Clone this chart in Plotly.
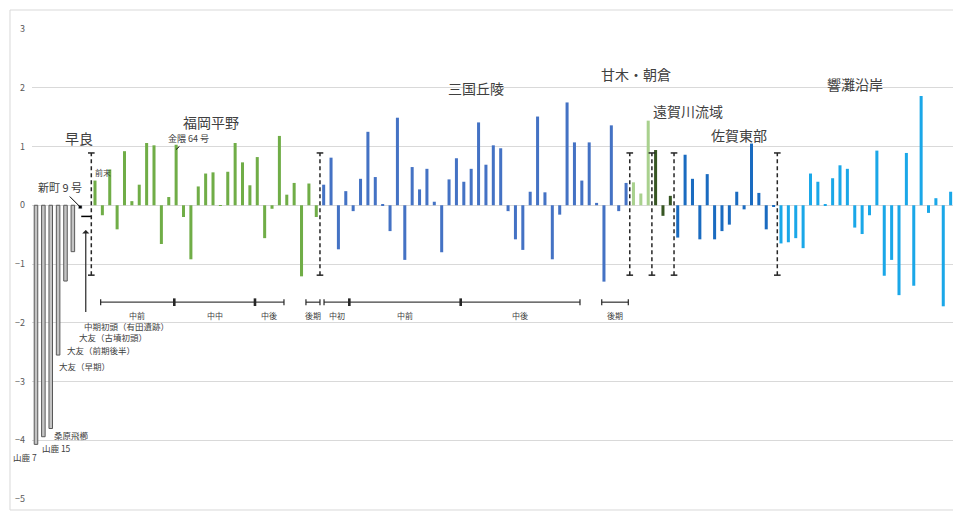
import plotly.graph_objects as go

# ---- values per region (standardised scores, one bar per site) ----
reference_sites = ["山鹿 7", "山鹿 15", "桑原飛櫛", "大友（早期）", "大友（前期後半）", "大友（古墳初頭）"]
reference_vals = [-4.07, -3.94, -3.80, -2.55, -1.29, -0.79]
shinmachi_val = [-0.06]
arita_val = [-0.19]

sawara_fukuoka_vals = [0.42, -0.17, 0.61, -0.41, 0.92, 0.07, 0.35, 1.06, 1.02, -0.66,
                       0.14, 1.03, -0.20, -0.92, 0.32, 0.54, 0.56, -0.01, 0.57, 1.06,
                       0.73, 0.34, 0.82, -0.56, -0.06, 1.18, 0.18, 0.38, -1.21, 0.37,
                       -0.20]
mikuni_vals = [0.35, 0.81, -0.75, 0.24, -0.10, 0.45, 1.25, 0.48, 0.02, -0.44,
               1.49, -0.93, 0.65, 0.27, 0.62, 0.06, -0.80, 0.44, 0.80, 0.40,
               0.62, 1.41, 0.69, 1.02, 0.97, -0.10, -0.58, -0.76, 0.23, 1.51,
               0.22, -0.92, -0.16, 1.75, 1.07, 0.42, 1.07, 0.04, -1.30, 1.36,
               -0.10, 0.38]
amagi_vals = [0.39, 0.20, 1.44]
onga_vals = [0.94, -0.18, 0.16]
saga_vals = [-0.55, 0.86, 0.45, -0.58, 0.53, -0.58, -0.44, -0.33, 0.23, -0.07,
             1.05, 0.21, -0.41, -0.02]
hibiki_vals = [-0.65, -0.63, -0.56, -0.73, 0.54, 0.40, 0.01, 0.46, 0.68, 0.62,
               -0.38, -0.49, -0.17, 0.93, -1.20, -0.93, -1.53, 0.89, -1.37, 1.86,
               -0.13, 0.12, -1.72, 0.23]

region_names = ["早良", "福岡平野", "三国丘陵", "甘木・朝倉", "遠賀川流域", "佐賀東部", "響灘沿岸"]
period_names = ["中前", "中中", "中後", "後期", "中初", "中前", "中後", "後期"]
y_ticks = [3, 2, 1, 0, -1, -2, -3, -4, -5]

# ---- category positions (consecutive slots) ----
pos = 0
def slots(vals):
    global pos
    xs = list(range(pos, pos + len(vals)))
    pos += len(vals)
    return xs

x_ref = slots(reference_vals)
x_shin = slots(shinmachi_val)
x_arita = slots(arita_val)
x_fuk = slots(sawara_fukuoka_vals)
x_mik = slots(mikuni_vals)
x_ama = slots(amagi_vals)
x_onga = slots(onga_vals)
x_saga = slots(saga_vals)
x_hib = slots(hibiki_vals)

FONT = "Noto Sans CJK JP, Noto Sans, sans-serif"
TXT = "#404040"
BW = 0.41

fig = go.Figure()
fig.add_trace(go.Bar(x=x_ref, y=reference_vals, width=0.48,
                     marker=dict(color="#c4c4c4", line=dict(color="#595959", width=1))))
fig.add_trace(go.Bar(x=x_shin, y=shinmachi_val, width=0.5, marker=dict(color="#000000")))
fig.add_trace(go.Scatter(x=[v - 0.2 for v in x_arita], y=arita_val, mode="markers",
                         marker=dict(symbol="line-ew", size=7, line=dict(color="#000000", width=1.5))))
for xs, vals, col in [(x_fuk, sawara_fukuoka_vals, "#70ad47"),
                      (x_mik, mikuni_vals, "#4472c4"),
                      (x_ama, amagi_vals, "#a9d18e"),
                      (x_onga, onga_vals, "#375623"),
                      (x_saga, saga_vals, "#1a6bc0"),
                      (x_hib, hibiki_vals, "#1aa7e8")]:
    fig.add_trace(go.Bar(x=xs, y=vals, width=BW, marker=dict(color=col, line=dict(width=0))))

# ---- dashed region separators with end caps ----
separators = [x_fuk[0] - 0.5, x_mik[0] - 0.5, x_ama[0] - 0.5,
              x_onga[0] - 0.5, x_saga[0] - 0.5, x_hib[0] - 0.5]
sep_lo, sep_hi = -1.19, 0.89
shapes = []
for s in separators:
    shapes.append(dict(type="line", xref="x", yref="y", x0=s, x1=s, y0=sep_lo, y1=sep_hi,
                       line=dict(color="#262626", width=1.5, dash="4px,3px")))
    for yy in (sep_lo, sep_hi):
        shapes.append(dict(type="line", xref="x", yref="y", x0=s - 0.45, x1=s + 0.45,
                           y0=yy, y1=yy, line=dict(color="#262626", width=1.5)))

# ---- period brackets ----
bracket_groups = [
    [8.77, 18.75, 29.69, 33.62],
    [36.6, 38.5],
    [39.05, 42.48, 57.58, 73.75],
    [76.7, 80.3],
]
by = -1.65
label_y = -1.87
annotations = []
pi = 0
for g in bracket_groups:
    shapes.append(dict(type="line", xref="x", yref="y", x0=g[0], x1=g[-1], y0=by, y1=by,
                       line=dict(color="#404040", width=1.3)))
    for j, b in enumerate(g):
        inner = 0 < j < len(g) - 1
        shapes.append(dict(type="line", xref="x", yref="y", x0=b, x1=b,
                           y0=by - (0.065 if inner else 0.05), y1=by + (0.065 if inner else 0.05),
                           line=dict(color="#262626", width=2.6 if inner else 1.2)))
    for a, b in zip(g[:-1], g[1:]):
        annotations.append(dict(x=(a + b) / 2, y=label_y, xref="x", yref="y", text=period_names[pi],
                                showarrow=False, font=dict(family=FONT, size=8, color=TXT)))
        pi += 1

# ---- outer chart frame ----
shapes.append(dict(type="rect", xref="paper", yref="paper", x0=-0.0239, x1=1.05, y0=-0.0234, y1=1.0404,
                   line=dict(color="#d9d9d9", width=1), fillcolor="rgba(0,0,0,0)", layer="below"))

# ---- region titles ----
region_pos = [(5.84, 1.14), (23.7, 1.42), (59.6, 2.0), (81.35, 2.23), (88.4, 1.6), (95.3, 1.2), (111.0, 2.06)]
for name, (xx, yy) in zip(region_names, region_pos):
    annotations.append(dict(x=xx, y=yy, xref="x", yref="y", text=name, showarrow=False,
                            font=dict(family=FONT, size=14, color=TXT)))

# ---- site labels ----
site_label_pos = [(0.4, -4.29, "right"), (0.54, -4.13, "left"), (2.17, -3.91, "left"),
                  (2.85, -2.73, "left"), (3.93, -2.46, "left"), (5.56, -2.24, "left")]
for name, (xx, yy, anc) in zip(reference_sites, site_label_pos):
    annotations.append(dict(x=xx, y=yy, xref="x", yref="y", text=name, showarrow=False,
                            xanchor=anc, font=dict(family=FONT, size=8.5, color=TXT)))
annotations.append(dict(x=6.24, y=-2.06, xref="x", yref="y", text="中期初頭（有田遺跡）", showarrow=False,
                        xanchor="left", font=dict(family=FONT, size=8.5, color=TXT)))
annotations.append(dict(x=x_arita[0] - 0.25, y=-0.42, xref="x", yref="y", text=" ", showarrow=True,
                        arrowhead=1, arrowsize=1, arrowwidth=1.2, arrowcolor="#262626", ax=0, ay=92))
annotations.append(dict(x=x_shin[0], y=-0.03, xref="x", yref="y", text="新町 9 号", showarrow=True,
                        arrowhead=0, arrowwidth=1, arrowcolor="#000000", ax=-20, ay=-20,
                        font=dict(family=FONT, size=11, color=TXT)))
annotations.append(dict(x=x_fuk[11], y=0.95, xref="x", yref="y", text="金隈 64 号", showarrow=True,
                        arrowhead=0, arrowwidth=1, arrowcolor="#000000", ax=12, ay=-11,
                        font=dict(family=FONT, size=9, color=TXT)))
annotations.append(dict(x=x_fuk[0] - 0.3, y=0.55, xref="x", yref="y", text="前末", showarrow=False,
                        xanchor="left", font=dict(family=FONT, size=8, color=TXT)))

fig.update_layout(
    width=953, height=511,
    margin=dict(l=32, r=0, t=29, b=12),
    paper_bgcolor="white", plot_bgcolor="white",
    barmode="overlay", showlegend=False,
    shapes=shapes, annotations=annotations,
    xaxis=dict(range=[-0.54, 124.32], showticklabels=False, showgrid=False,
               zeroline=False, showline=False, ticks=""),
    yaxis=dict(range=[-5, 3], tickvals=y_ticks, showgrid=True, gridcolor="#d9d9d9", gridwidth=1,
               zeroline=False, showline=False, ticks="", ticklabelstandoff=6,
               tickfont=dict(family=FONT, size=9, color="#595959")),
)

fig.write_html("out.html")
